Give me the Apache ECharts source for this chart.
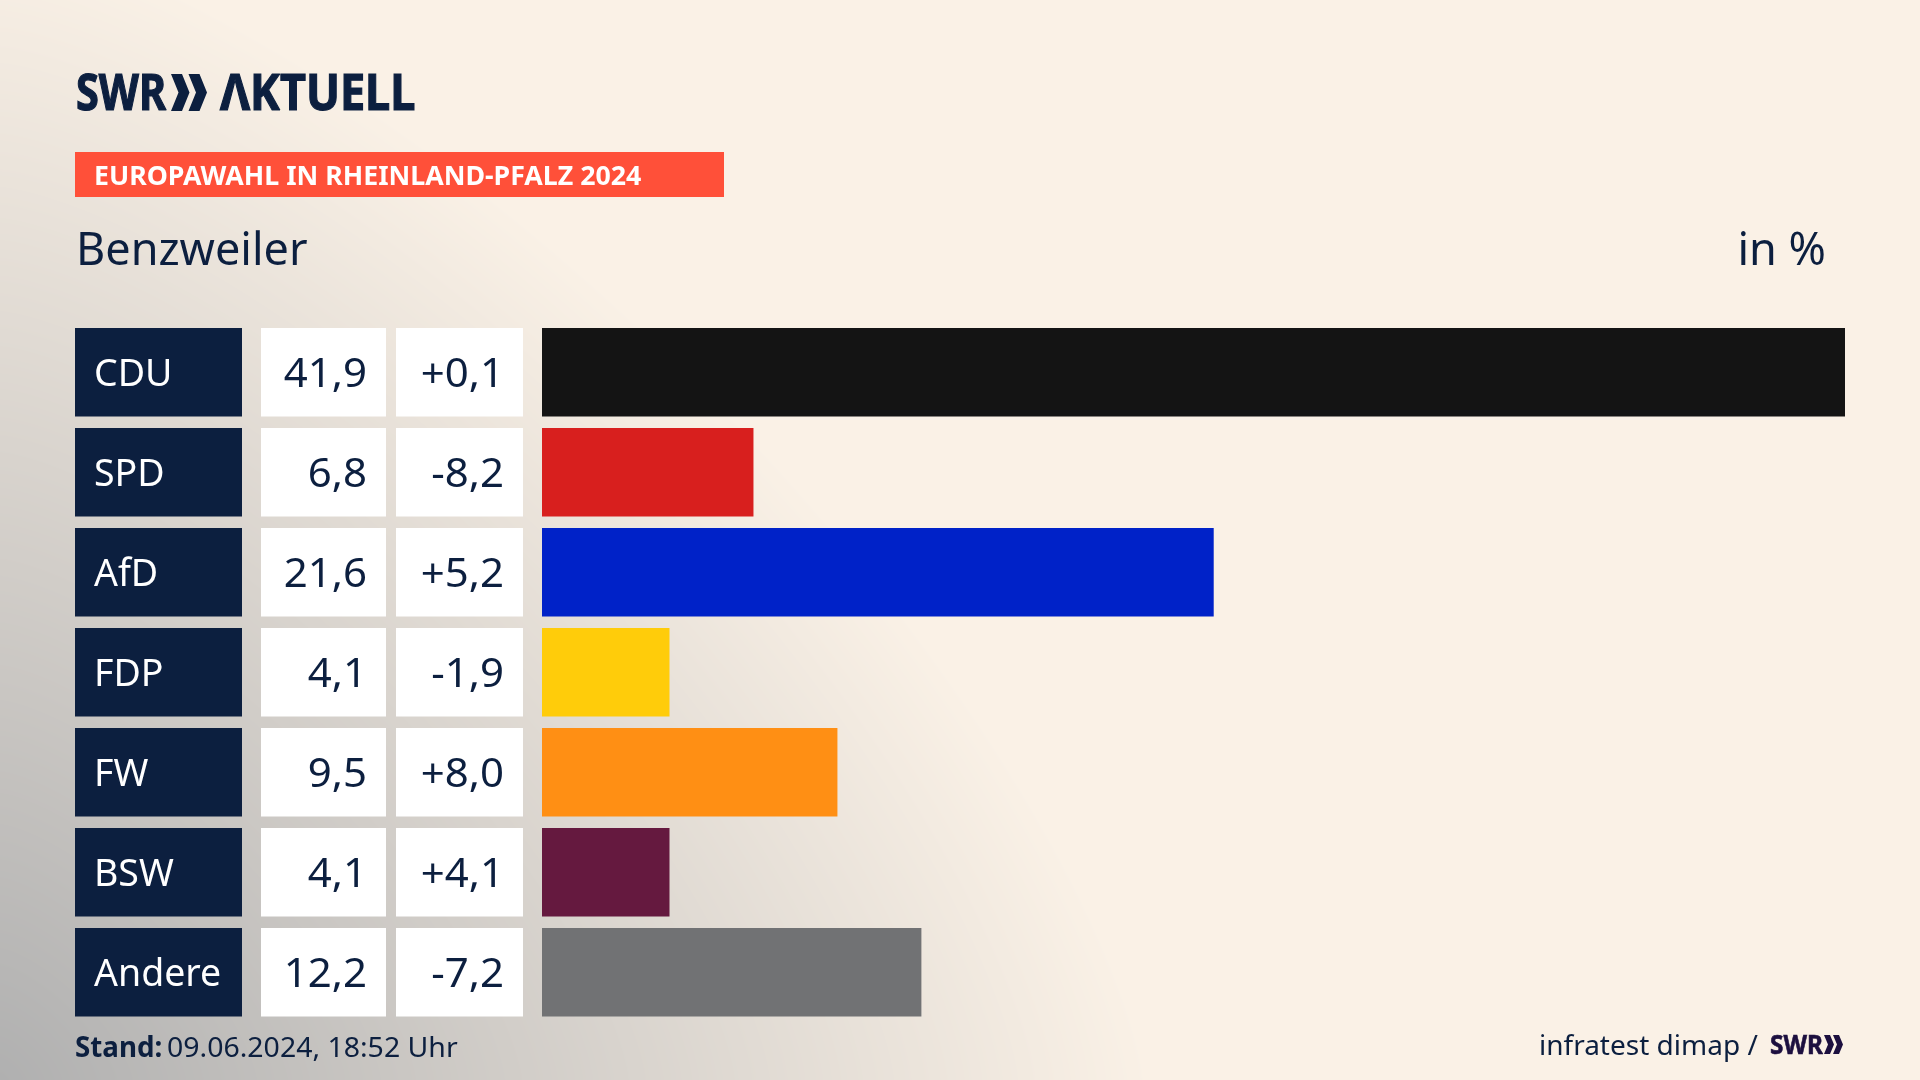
<!DOCTYPE html>
<html><head><meta charset="utf-8">
<style>
html,body{margin:0;padding:0;width:1920px;height:1080px;overflow:hidden;background:#FAF1E6}
#bg,#c{position:absolute;left:0;top:0;width:1920px;height:1080px}
</style></head><body><canvas id="bg" width="1920" height="1080"></canvas><div id="c"></div>
<script src="https://cdn.jsdelivr.net/npm/echarts@6/dist/echarts.min.js"></script>
<script>
const parties = ["CDU","SPD","AfD","FDP","FW","BSW","Andere"];
const shares = [41.9,6.8,21.6,4.1,9.5,4.1,12.2];
const changes = ["+0,1","-8,2","+5,2","-1,9","+8,0","+4,1","-7,2"];
const colors = ["#141414","#D81F1E","#0022C8","#FFCC0A","#FF8F14","#65193F","#717274"];
const title = "EUROPAWAHL IN RHEINLAND-PFALZ 2024";
const place = "Benzweiler";
const unit = "in %";
const stand = "09.06.2024, 18:52 Uhr";
const source = "infratest dimap /";

// soft grey glow from the bottom-left corner
(function(){
  const ctx=document.getElementById('bg').getContext('2d');
  const im=ctx.createImageData(1920,1080), d=im.data, p=1.4;
  for(let y=0;y<1080;y++)for(let x=0;x<1920;x++){
    const f=Math.pow(Math.pow(x/1150,p)+Math.pow((1080-y)/1150,p),1/p);
    const a=Math.max(0,1-f), i=(y*1920+x)*4;
    d[i]=250-74*a; d[i+1]=241-65*a; d[i+2]=230-54*a; d[i+3]=255;
  }
  ctx.putImageData(im,0,0);
})();

const NAVY="#0C1F3F", FONT='"Noto Sans"';
const fmt=v=>v.toFixed(1).replace(".",",");
function chev(x,y0,y1,w,t,fill){
  const m=(y0+y1)/2;
  return {type:'polygon',shape:{points:[[x,y0],[x+t,y0],[x+w,m],[x+t,y1],[x,y1],[x+w-t,m]]},style:{fill},silent:true};
}
function txt(text,x,y,size,opt={}){
  const style={text,x:0,y:0,fill:opt.fill||NAVY,
    font:(opt.weight||400)+' '+size+'px '+FONT,align:opt.align||'left',verticalAlign:'middle'};
  if(opt.heavy){style.stroke=style.fill;style.lineWidth=opt.heavy;}
  return {type:'text',x,y,scaleX:opt.sx||1,silent:true,style};
}
const chart=echarts.init(document.getElementById('c'),null,{renderer:'canvas',width:1920,height:1080});
chart.setOption({
  animation:false,
  backgroundColor:'transparent',
  grid:{left:542,top:322.25,width:1303,height:700,containLabel:false},
  xAxis:{type:'value',min:0,max:41.9,show:false},
  yAxis:{type:'category',data:parties,inverse:true,show:false},
  series:[
    {type:'bar',barWidth:88.5,silent:true,
     data:shares.map((v,i)=>({value:v,itemStyle:{color:colors[i]}}))},
    {type:'custom',silent:true,clip:false,
     data:parties.map((p,i)=>[0,i]),
     encode:{x:0,y:1},
     renderItem(params,api){
       const i=api.value(1), yc=api.coord([0,i])[1], top=yc-44.25;
       const rect=(x,w,fill)=>({type:'rect',shape:{x,y:top,width:w,height:88.5},style:{fill}});
       const t=(text,x,align,fill,size,sx)=>({type:'text',x,y:yc+3.5,scaleX:sx,style:{text,x:0,y:0,fill,align,verticalAlign:'middle',font:'400 '+size+'px '+FONT}});
       return {type:'group',children:[
         rect(75,167,NAVY),rect(261,125,'#fff'),rect(396,127,'#fff'),
         t(parties[i],94,'left','#fff',37.5,1),
         t(fmt(shares[i]),367,'right',NAVY,40,1.05),
         t(changes[i],504,'right',NAVY,40,1.05)
       ]};
     }}
  ],
  graphic:[
    txt("SWR",76,96,50,{weight:700,sx:0.83,heavy:1.2}),
    chev(171,74,111,18.5,11,NAVY),
    chev(188.5,74,111,18.5,11,NAVY),
    txt("ΛKTUELL",220,96,50,{weight:700,sx:0.9,heavy:1.2}),
    {type:'rect',shape:{x:75,y:152,width:649,height:45},style:{fill:'#FF5039'},silent:true},
    txt(title,94,177.5,27,{weight:700,fill:'#fff',sx:0.99}),
    txt(place,76,252,45),
    txt(unit,1826,252,45,{align:'right'}),
    txt("Stand:",75,1049,28,{weight:700,sx:0.99}),
    txt(stand,167,1049,28,{sx:1.016}),
    txt(source,1539,1047,28),
    txt("SWR",1770,1046,27,{weight:700,sx:0.9,fill:'#1C0F3F',heavy:0.6}),
    chev(1824,1035,1054,10,6,'#1C0F3F'),
    chev(1833,1035,1054,10,6,'#1C0F3F')
  ]
});
</script></body></html>
